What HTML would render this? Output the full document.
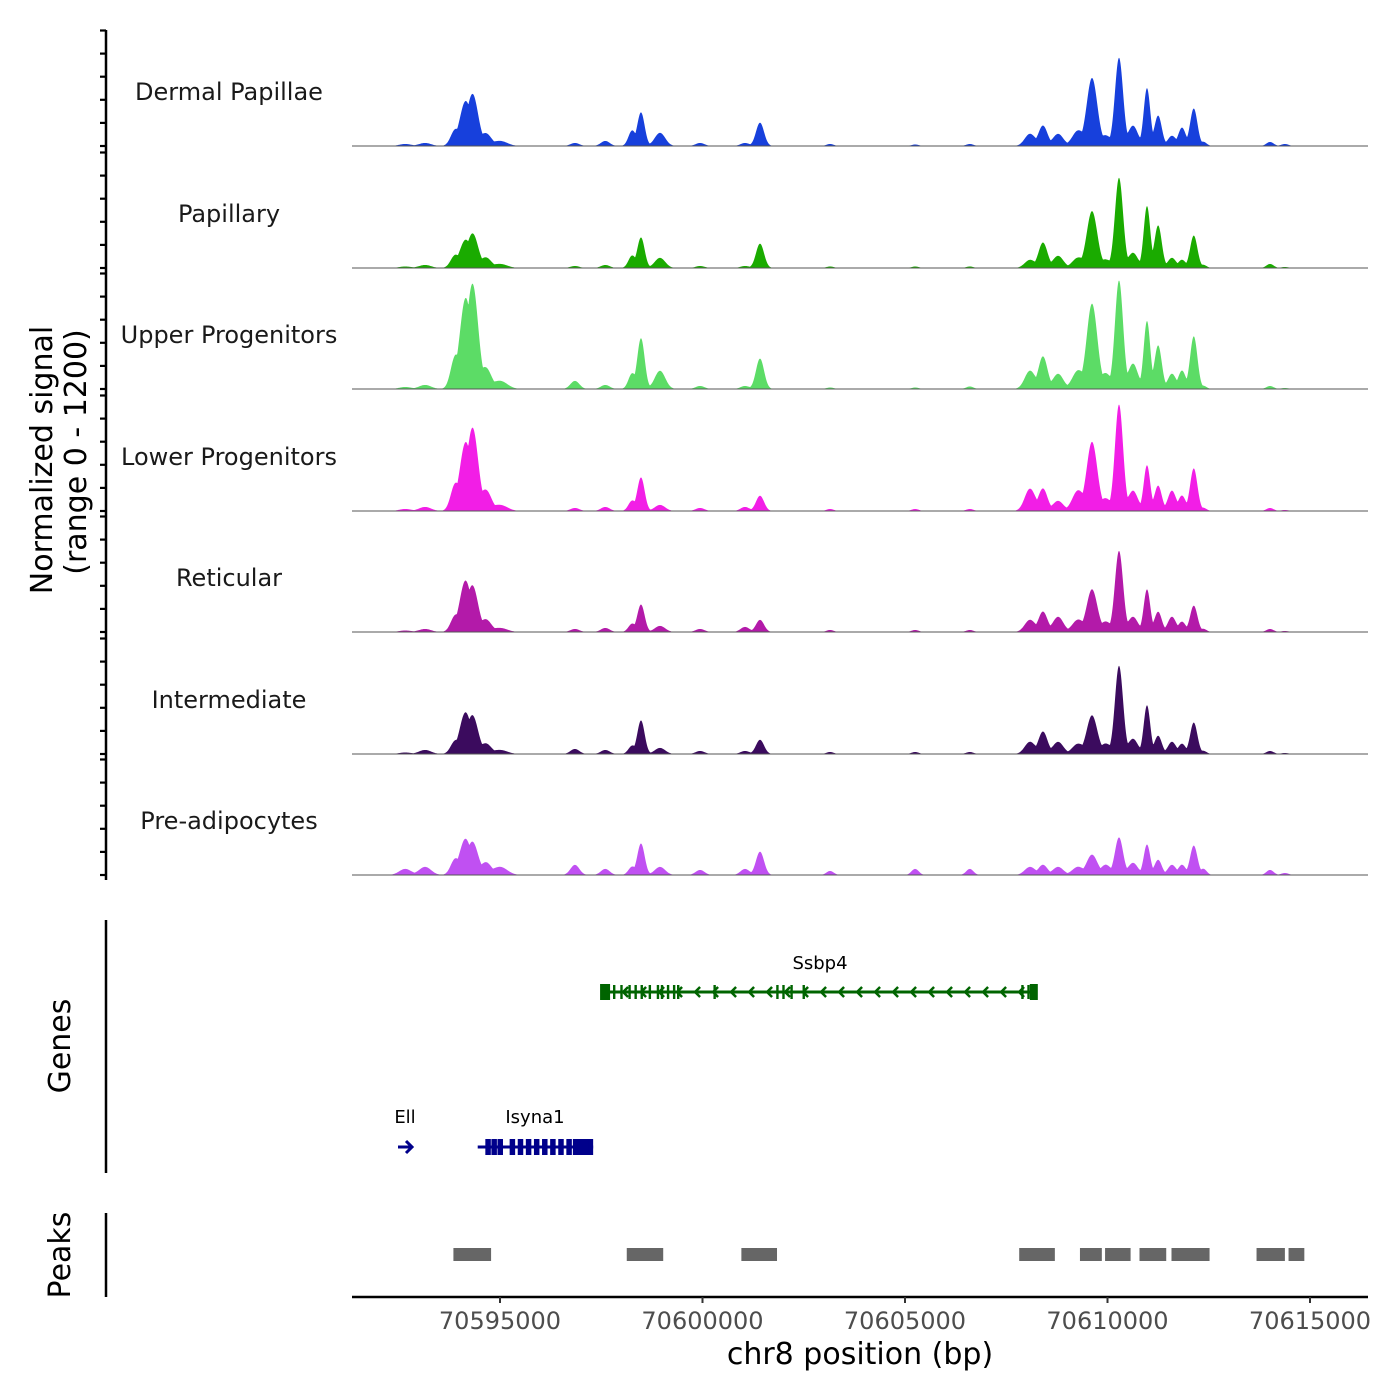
<!DOCTYPE html>
<html><head><meta charset="utf-8"><style>
body{margin:0;background:#fff}
svg{display:block;font-family:"DejaVu Sans","Liberation Sans",sans-serif}
</style></head><body>
<svg id="c" width="1400" height="1400" viewBox="0 0 1400 1400"></svg>
<script>
const trackNames=["Dermal Papillae","Papillary","Upper Progenitors","Lower Progenitors","Reticular","Intermediate","Pre-adipocytes"];
const trackColors=["#1740dc","#1aab00","#5cdc66","#f21ee6","#b31aa9","#3b0b5e","#c050f2"];
// peak centers (bp)
const peakPos=[70592660,70593150,70593890,70594136,70594334,70594655,70595000,70596850,70597600,70598260,70598482,70598950,70599940,70601050,70601420,70603150,70605250,70606600,70608086,70608407,70608780,70609270,70609618,70609960,70610284,70610630,70610975,70611250,70611590,70611840,70612130,70612370,70614013,70614380];
const peakWidth=[150,150,110,130,130,130,180,110,110,90,90,130,110,110,100,90,90,90,130,110,130,140,130,120,100,120,80,90,100,90,90,80,90,90];
const dpVals=[20,30,150,400,480,120,50,30,50,150,330,130,30,30,230,20,15,20,120,200,120,150,670,100,870,200,570,300,100,180,370,40,40,20];
const papVals=[15,30,120,250,320,100,40,20,30,120,300,100,20,20,240,15,15,15,80,250,120,100,560,80,890,150,610,420,100,80,320,30,40,10];
const upVals=[20,40,300,810,970,200,80,80,40,150,500,180,30,30,300,15,15,25,180,320,150,180,840,150,1070,250,670,430,150,180,520,30,30,10];
const lowVals=[20,40,250,610,770,200,60,30,40,100,330,60,30,40,150,20,20,20,220,220,100,200,680,120,1050,200,450,250,200,150,420,30,30,10];
const retVals=[15,30,150,470,420,120,40,30,40,80,270,60,30,50,120,20,20,20,120,200,150,120,420,100,800,150,420,200,150,100,260,30,30,10];
const intVals=[15,40,120,380,350,100,40,50,40,80,330,60,30,30,140,20,20,20,120,220,120,100,380,100,870,150,480,180,120,100,310,30,30,10];
const preVals=[60,80,150,330,300,120,80,100,60,80,310,80,50,60,230,40,60,60,80,100,80,80,200,100,370,120,300,150,100,100,290,60,50,20];
const trackVals=[dpVals,papVals,upVals,lowVals,retVals,intVals,preVals];
const xTicks=[70595000,70600000,70605000,70610000,70615000];
const peakRegions=[[70593850,70594780],[70598130,70599030],[70600960,70601840],[70607820,70608700],[70609320,70609860],[70609940,70610570],[70610790,70611450],[70611580,70612520],[70613680,70614380],[70614470,70614860]];
const ssbp4Exons=[70597570,70597820,70598000,70598200,70598350,70598500,70598700,70598900,70599000,70599150,70599300,70599400,70600300,70601850,70602000,70602200,70602500,70607900,70608050];
const isynaExons=[70594700,70594850,70595000,70595300,70595500,70595700,70595900,70596100,70596300,70596500,70596700,70596900,70597100];

const X0=352,X1=1368,BP0=70591346,BP1=70616432;
const sx=bp=>X0+(bp-BP0)/(BP1-BP0)*(X1-X0);
const baselines=[146,268,389,511,632,754,875];
const TH=121.5;
const sy=(v,b)=>b-v/1200*TH;
const svg=document.getElementById('c');
const NS="http://www.w3.org/2000/svg";
function mk(tag,attrs,parent){const e=document.createElementNS(NS,tag);for(const k in attrs)e.setAttribute(k,attrs[k]);(parent||svg).appendChild(e);return e;}

// left axis with ticks
const ax=mk('g',{});


mk('line',{x1:106,y1:30,x2:106,y2:880,stroke:'#000','stroke-width':2.5},ax);
for(let t=0;t<7;t++){const b=baselines[t];for(let k=0;k<=5;k++){const y=b-k*23.1;mk('line',{x1:100,y1:y,x2:106,y2:y,stroke:'#000','stroke-width':2.2},ax);}}
const yt=mk('text',{transform:'translate(52,460) rotate(-90)','text-anchor':'middle','font-size':30});
yt.textContent='Normalized signal';


const yt2=mk('text',{transform:'translate(86,452) rotate(-90)','text-anchor':'middle','font-size':30});
yt2.textContent='(range 0 - 1200)';



// tracks
for(let t=0;t<7;t++){
  const b=baselines[t],vals=trackVals[t];
  let d=`M${X0},${b}`;
  for(let x=390;x<=1310;x+=0.5){
    const bp=BP0+(x-X0)/(X1-X0)*(BP1-BP0);
    let v=0,s=0;
    for(let i=0;i<peakPos.length;i++){const z=(bp-peakPos[i])/peakWidth[i];if(Math.abs(z)<5){const c=vals[i]*Math.exp(-z*z/2);s+=c;if(c>v)v=c;}}
    v=v+0.25*(s-v);
    d+=` L${x},${sy(Math.min(v,1200),b).toFixed(2)}`;
  }
  d+=` L1310,${b} Z`;
  const p=mk('path',{d,fill:trackColors[t]});
  
  
  const bl=mk('line',{x1:X0,y1:b,x2:X1,y2:b,stroke:'#555','stroke-width':1});
  
  
  const lb=mk('text',{x:229,y:b-46,'text-anchor':'middle','font-size':24,fill:'#1a1a1a'});
  lb.textContent=trackNames[t];
  
  
}

// genes panel
const ga=mk('line',{x1:106,y1:920,x2:106,y2:1173,stroke:'#000','stroke-width':2.5});


const gt=mk('text',{transform:'translate(70,1046) rotate(-90)','text-anchor':'middle','font-size':30});
gt.textContent='Genes';


const g1=mk('g',{});


const gs=sx(70597570),ge=sx(70608230);
mk('line',{x1:gs,y1:992,x2:ge,y2:992,stroke:'#006400','stroke-width':3},g1);
mk('rect',{x:gs-4,y:984,width:10,height:16,fill:'#006400'},g1);
mk('rect',{x:ge-6,y:984,width:8,height:16,fill:'#006400'},g1);
for(const e of ssbp4Exons){mk('rect',{x:sx(e)-1.2,y:985,width:2.4,height:14,fill:'#006400'},g1);}
for(let x=gs+20;x<ge-8;x+=18){mk('path',{d:`M${x+4},987 L${x-1},992 L${x+4},997`,stroke:'#006400','stroke-width':2.5,fill:'none'},g1);}
const l1=mk('text',{x:820,y:969,'text-anchor':'middle','font-size':18},g1);l1.textContent='Ssbp4';
const g2=mk('g',{});


mk('path',{d:'M398,1147 L412,1147 M406,1141 L412,1147 L406,1153',stroke:'#00008b','stroke-width':3,fill:'none'},g2);
const l2=mk('text',{x:405,y:1123,'text-anchor':'middle','font-size':18},g2);l2.textContent='Ell';
const g3=mk('g',{});


mk('line',{x1:sx(70594450),y1:1147,x2:sx(70597300),y2:1147,stroke:'#00008b','stroke-width':3},g3);
mk('rect',{x:sx(70596800),y:1139,width:sx(70597300)-sx(70596800),height:16,fill:'#00008b'},g3);
for(const e of isynaExons){mk('rect',{x:sx(e)-2.5,y:1139,width:5.5,height:16,fill:'#00008b'},g3);}
const l3=mk('text',{x:535,y:1123,'text-anchor':'middle','font-size':18},g3);l3.textContent='Isyna1';

// peaks panel
const pa=mk('line',{x1:106,y1:1213,x2:106,y2:1297,stroke:'#000','stroke-width':2.5});


const pt=mk('text',{transform:'translate(70,1255) rotate(-90)','text-anchor':'middle','font-size':30});
pt.textContent='Peaks';


for(const r of peakRegions){const e=mk('rect',{x:sx(r[0]),y:1248,width:sx(r[1])-sx(r[0]),height:13,fill:'#666'});

}

// x axis
const xa=mk('line',{x1:X0,y1:1297,x2:X1,y2:1297,stroke:'#000','stroke-width':2.5});


for(const t of xTicks){const x=sx(t);
  mk('line',{x1:x,y1:1297,x2:x,y2:1303,stroke:'#333','stroke-width':2});
  const tl=mk('text',{x:x,y:1329,'text-anchor':'middle','font-size':24,fill:'#4d4d4d'});tl.textContent=String(t);
  
  }
const xt=mk('text',{x:860,y:1364,'text-anchor':'middle','font-size':30});
xt.textContent='chr8 position (bp)';


</script>
</body></html>
